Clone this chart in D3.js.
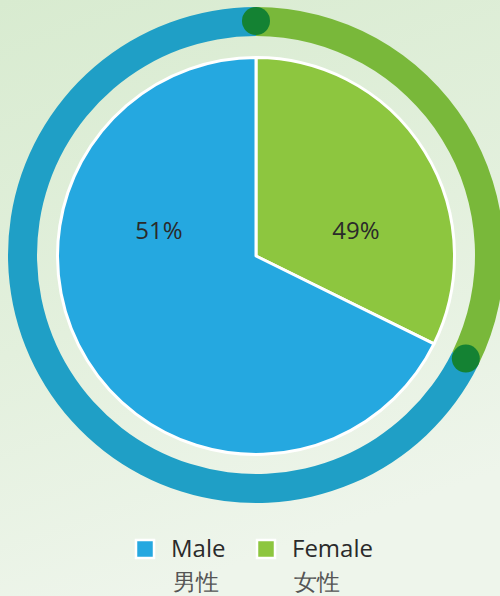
<!DOCTYPE html>
<html><head><meta charset="utf-8">
<script src="https://cdn.jsdelivr.net/npm/d3@7"></script>
<style>
html,body{margin:0;padding:0;}
body{width:500px;height:596px;overflow:hidden;}
text{font-family:"Open Sans",Lato,sans-serif;}
</style></head>
<body>
<script>
// Data (drawn slice shares as seen in the picture; printed labels as written)
const categories = ["Male", "Female"];
const categoriesZh = ["男性", "女性"];
const sliceShares = [67.7, 32.3];
const valueLabels = ["51%", "49%"];
const colors = ["#25a8e0", "#8dc63f"];
const ringColors = ["#1f9fc6", "#79b83a"];

const W = 500, H = 596;
const svg = d3.select("body").append("svg").attr("width", W).attr("height", H);

const defs = svg.append("defs");
const bg = defs.append("linearGradient").attr("id","bg").attr("x1",0).attr("y1",0).attr("x2",0.3).attr("y2",1);
bg.append("stop").attr("offset","0%").attr("stop-color","#d8ebd0");
bg.append("stop").attr("offset","55%").attr("stop-color","#e3f0dd");
bg.append("stop").attr("offset","100%").attr("stop-color","#eef5eb");
svg.append("rect").attr("width",W).attr("height",H).attr("fill","url(#bg)");

// Female first clockwise from top, then male
const order = [1, 0];
const pie = d3.pie().sort(null).value(i => sliceShares[i]);
const arcsData = pie(order);

// Outer ring
const ringG = svg.append("g").attr("transform","translate(256,255)");
const ringArc = d3.arc().innerRadius(219).outerRadius(248);
ringG.selectAll("path").data(arcsData).join("path")
  .attr("d", ringArc).attr("fill", d => ringColors[d.data]);
const midR = 234;
ringG.selectAll("circle").data(arcsData).join("circle")
  .attr("cx", d => midR * Math.sin(d.startAngle))
  .attr("cy", d => -midR * Math.cos(d.startAngle))
  .attr("r", 14).attr("fill", "#148233");

// Pie
const pieG = svg.append("g").attr("transform","translate(256,256)");
const pieArc = d3.arc().innerRadius(0).outerRadius(198.5);
pieG.selectAll("path").data(arcsData).join("path")
  .attr("d", pieArc).attr("fill", d => colors[d.data])
  .attr("stroke","#fff").attr("stroke-width",3).attr("stroke-linejoin","round");

// Value labels
const labelPos = {0: [159, 229], 1: [356, 229]};
svg.selectAll("text.val").data([0,1]).join("text").attr("class","val")
  .attr("x", i => labelPos[i][0]).attr("y", i => labelPos[i][1])
  .attr("text-anchor","middle").attr("dominant-baseline","central")
  .attr("font-size", 24).attr("font-weight",400).attr("fill","#2a2a2a")
  .text(i => valueLabels[i]);

// Legend
const legendX = [136, 257];
const lg = svg.selectAll("g.leg").data([0,1]).join("g").attr("class","leg")
  .attr("transform", i => `translate(${legendX[i]},540)`);
lg.append("rect").attr("x",0).attr("y",0).attr("width",18).attr("height",18)
  .attr("fill", i => colors[i]).attr("stroke","#fff").attr("stroke-width",2.5);
lg.append("text").attr("x",35).attr("y",17).attr("font-size",24).attr("font-weight",400).attr("fill","#2a2a2a")
  .text(i => categories[i]);
lg.append("text").attr("x",37).attr("y",50).attr("font-size",23).attr("fill","#555")
  .attr("font-family","'Noto Sans CJK SC',sans-serif").attr("font-weight",200)
  .text(i => categoriesZh[i]);
</script>
</body></html>
